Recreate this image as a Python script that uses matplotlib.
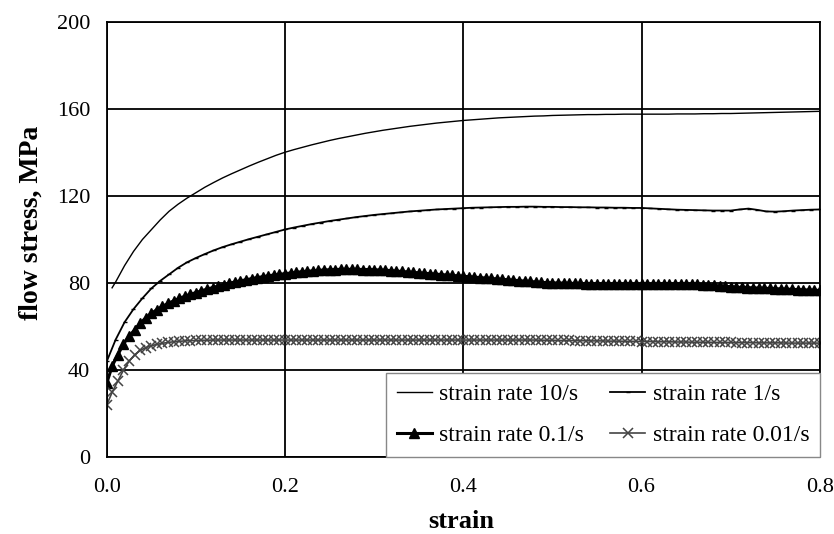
import numpy as np
import matplotlib.pyplot as plt

plt.rcParams['font.family'] = ['Liberation Serif', 'DejaVu Serif']

# strain rate 10/s
strain_10 = np.concatenate([[0.006], np.arange(1, 81) / 100])
stress_10 = [77.8,
             80.5, 88.0, 94.5, 100.0, 104.5, 109.0, 113.0, 116.2, 119.0, 121.5,
             124.0, 126.2, 128.3, 130.2, 132.0, 133.8, 135.5, 137.1, 138.7, 140.1,
             141.3, 142.4, 143.5, 144.5, 145.5, 146.4, 147.2, 148.0, 148.8, 149.5,
             150.2, 150.8, 151.4, 152.0, 152.5, 153.0, 153.5, 153.9, 154.3, 154.7,
             155.0, 155.3, 155.6, 155.9, 156.1, 156.3, 156.5, 156.7, 156.8, 157.0,
             157.1, 157.2, 157.3, 157.4, 157.4, 157.5, 157.5, 157.6, 157.6, 157.6,
             157.6, 157.6, 157.6, 157.7, 157.7, 157.7, 157.8, 157.8, 157.9, 157.9,
             158.0, 158.1, 158.2, 158.3, 158.4, 158.5, 158.6, 158.7, 158.8, 158.9]

# strain rate 1/s
strain_1 = np.arange(0, 81) / 100
stress_1 = [44.0,
            54.0, 62.0, 68.0, 73.0, 77.5, 81.0, 84.0, 87.0, 89.5, 91.5,
            93.3, 95.0, 96.5, 97.8, 99.0, 100.2, 101.3, 102.4, 103.5, 104.6,
            105.5, 106.3, 107.1, 107.8, 108.5, 109.1, 109.7, 110.3, 110.8, 111.3,
            111.7, 112.1, 112.5, 112.9, 113.2, 113.5, 113.8, 114.0, 114.2, 114.4,
            114.6, 114.7, 114.8, 114.9, 115.0, 115.0, 115.1, 115.1, 115.0, 115.0,
            114.9, 114.9, 114.8, 114.8, 114.7, 114.7, 114.6, 114.6, 114.5, 114.5,
            114.3, 114.1, 113.9, 113.7, 113.6, 113.5, 113.4, 113.3, 113.3, 113.3,
            113.8, 114.2, 113.6, 112.9, 112.8, 113.0, 113.3, 113.5, 113.7, 113.8]

# strain rates 0.1/s and 0.01/s share one sampling grid
strain_slow = np.linspace(0, 0.8, 129)
stress_01 = [34.0, 42.0, 47.0, 52.0, 55.5, 58.5, 61.5, 64.0,
             66.0, 67.8, 69.3, 70.6, 71.8, 72.9, 73.9, 74.8,
             75.6, 76.4, 77.2, 77.9, 78.6, 79.3, 79.9, 80.5,
             81.0, 81.5, 82.0, 82.5, 82.9, 83.3, 83.7, 84.0,
             84.3, 84.6, 84.9, 85.2, 85.4, 85.6, 85.8, 86.0,
             86.1, 86.2, 86.3, 86.3, 86.3, 86.3, 86.2, 86.2,
             86.1, 86.0, 85.9, 85.7, 85.5, 85.3, 85.1, 84.9,
             84.7, 84.5, 84.3, 84.1, 83.9, 83.7, 83.5, 83.3,
             83.1, 82.9, 82.7, 82.5, 82.3, 82.1, 81.9, 81.7,
             81.5, 81.3, 81.1, 80.9, 80.7, 80.5, 80.3, 80.2,
             80.1, 80.0, 80.0, 79.9, 79.8, 79.8, 79.7, 79.7,
             79.6, 79.6, 79.6, 79.5, 79.5, 79.5, 79.5, 79.5,
             79.5, 79.5, 79.5, 79.5, 79.6, 79.6, 79.6, 79.6,
             79.5, 79.5, 79.4, 79.3, 79.1, 78.9, 78.7, 78.5,
             78.3, 78.1, 78.0, 77.9, 77.8, 77.7, 77.6, 77.5,
             77.4, 77.3, 77.2, 77.1, 77.0, 76.9, 76.8, 76.7,
             76.6]
stress_001 = [24.0, 30.0, 35.0, 40.0, 44.0, 47.0, 49.0, 50.3,
              51.2, 51.8, 52.3, 52.7, 53.0, 53.2, 53.4, 53.5,
              53.6, 53.7, 53.7, 53.8, 53.8, 53.8, 53.8, 53.8,
              53.8, 53.8, 53.8, 53.8, 53.8, 53.8, 53.8, 53.8,
              53.8, 53.8, 53.8, 53.8, 53.8, 53.8, 53.8, 53.8,
              53.8, 53.8, 53.8, 53.8, 53.8, 53.8, 53.8, 53.8,
              53.8, 53.8, 53.8, 53.8, 53.8, 53.8, 53.8, 53.8,
              53.8, 53.8, 53.8, 53.8, 53.8, 53.8, 53.8, 53.8,
              53.8, 53.8, 53.8, 53.8, 53.8, 53.8, 53.8, 53.8,
              53.8, 53.8, 53.8, 53.8, 53.8, 53.8, 53.7, 53.7,
              53.7, 53.6, 53.6, 53.6, 53.5, 53.5, 53.5, 53.4,
              53.4, 53.4, 53.3, 53.3, 53.3, 53.2, 53.2, 53.2,
              53.1, 53.1, 53.1, 53.0, 53.0, 53.0, 52.9, 52.9,
              52.9, 52.8, 52.8, 52.8, 52.8, 52.7, 52.7, 52.7,
              52.7, 52.6, 52.6, 52.6, 52.6, 52.5, 52.5, 52.5,
              52.5, 52.5, 52.4, 52.4, 52.4, 52.4, 52.4, 52.4,
              52.4]

labels = ['strain rate 10/s', 'strain rate 1/s',
          'strain rate 0.1/s', 'strain rate 0.01/s']

fig = plt.figure(figsize=(8.34, 5.34), dpi=100)
ax = fig.add_axes([0.128, 0.144, 0.855, 0.815])

l10, = ax.plot(strain_10, stress_10, color='black', lw=1.0, label=labels[0])
l1, = ax.plot(strain_1, stress_1, color='black', lw=1.3, marker='_',
              markersize=3, label=labels[1])
l01, = ax.plot(strain_slow, stress_01, color='black', lw=2.2, marker='^',
               markersize=6.5, label=labels[2])
l001, = ax.plot(strain_slow, stress_001, color='#444444', lw=1.2, marker='x',
                markersize=6.5, markeredgewidth=1.1, label=labels[3])

ax.set_xlim(0, 0.8)
ax.set_ylim(0, 200)
ax.set_xticks([0.0, 0.2, 0.4, 0.6, 0.8])
ax.set_yticks([0, 40, 80, 120, 160, 200])
ax.set_xticklabels(['0.0', '0.2', '0.4', '0.6', '0.8'])
ax.grid(True, color='black', lw=1.3)
ax.set_axisbelow(True)
for s in ax.spines.values():
    s.set_color('black')
    s.set_linewidth(1.3)
ax.tick_params(length=0, labelsize=16, pad=12)
ax.tick_params(axis='x', pad=15)

ax.set_xlabel('strain', fontsize=19, fontweight='bold')
ax.set_ylabel('flow stress, MPa', fontsize=20, fontweight='bold')
ax.xaxis.set_label_coords(0.497, -0.122)
ax.yaxis.set_label_coords(-0.088, 0.538)

# two-row legend: 10/s, 1/s on top, 0.1/s, 0.01/s below
leg = ax.legend([l10, l01, l1, l001], [labels[0], labels[2], labels[1], labels[3]],
                ncol=2, loc='lower right', bbox_to_anchor=(1.0, 0.0),
                borderaxespad=0, fontsize=17, frameon=True, fancybox=False,
                edgecolor='#888888', framealpha=1, handlelength=1.5,
                handletextpad=0.3, columnspacing=1.1, labelspacing=0.85,
                borderpad=0.45)
leg.get_frame().set_linewidth(1.0)

fig.savefig('out.png', dpi=100)
